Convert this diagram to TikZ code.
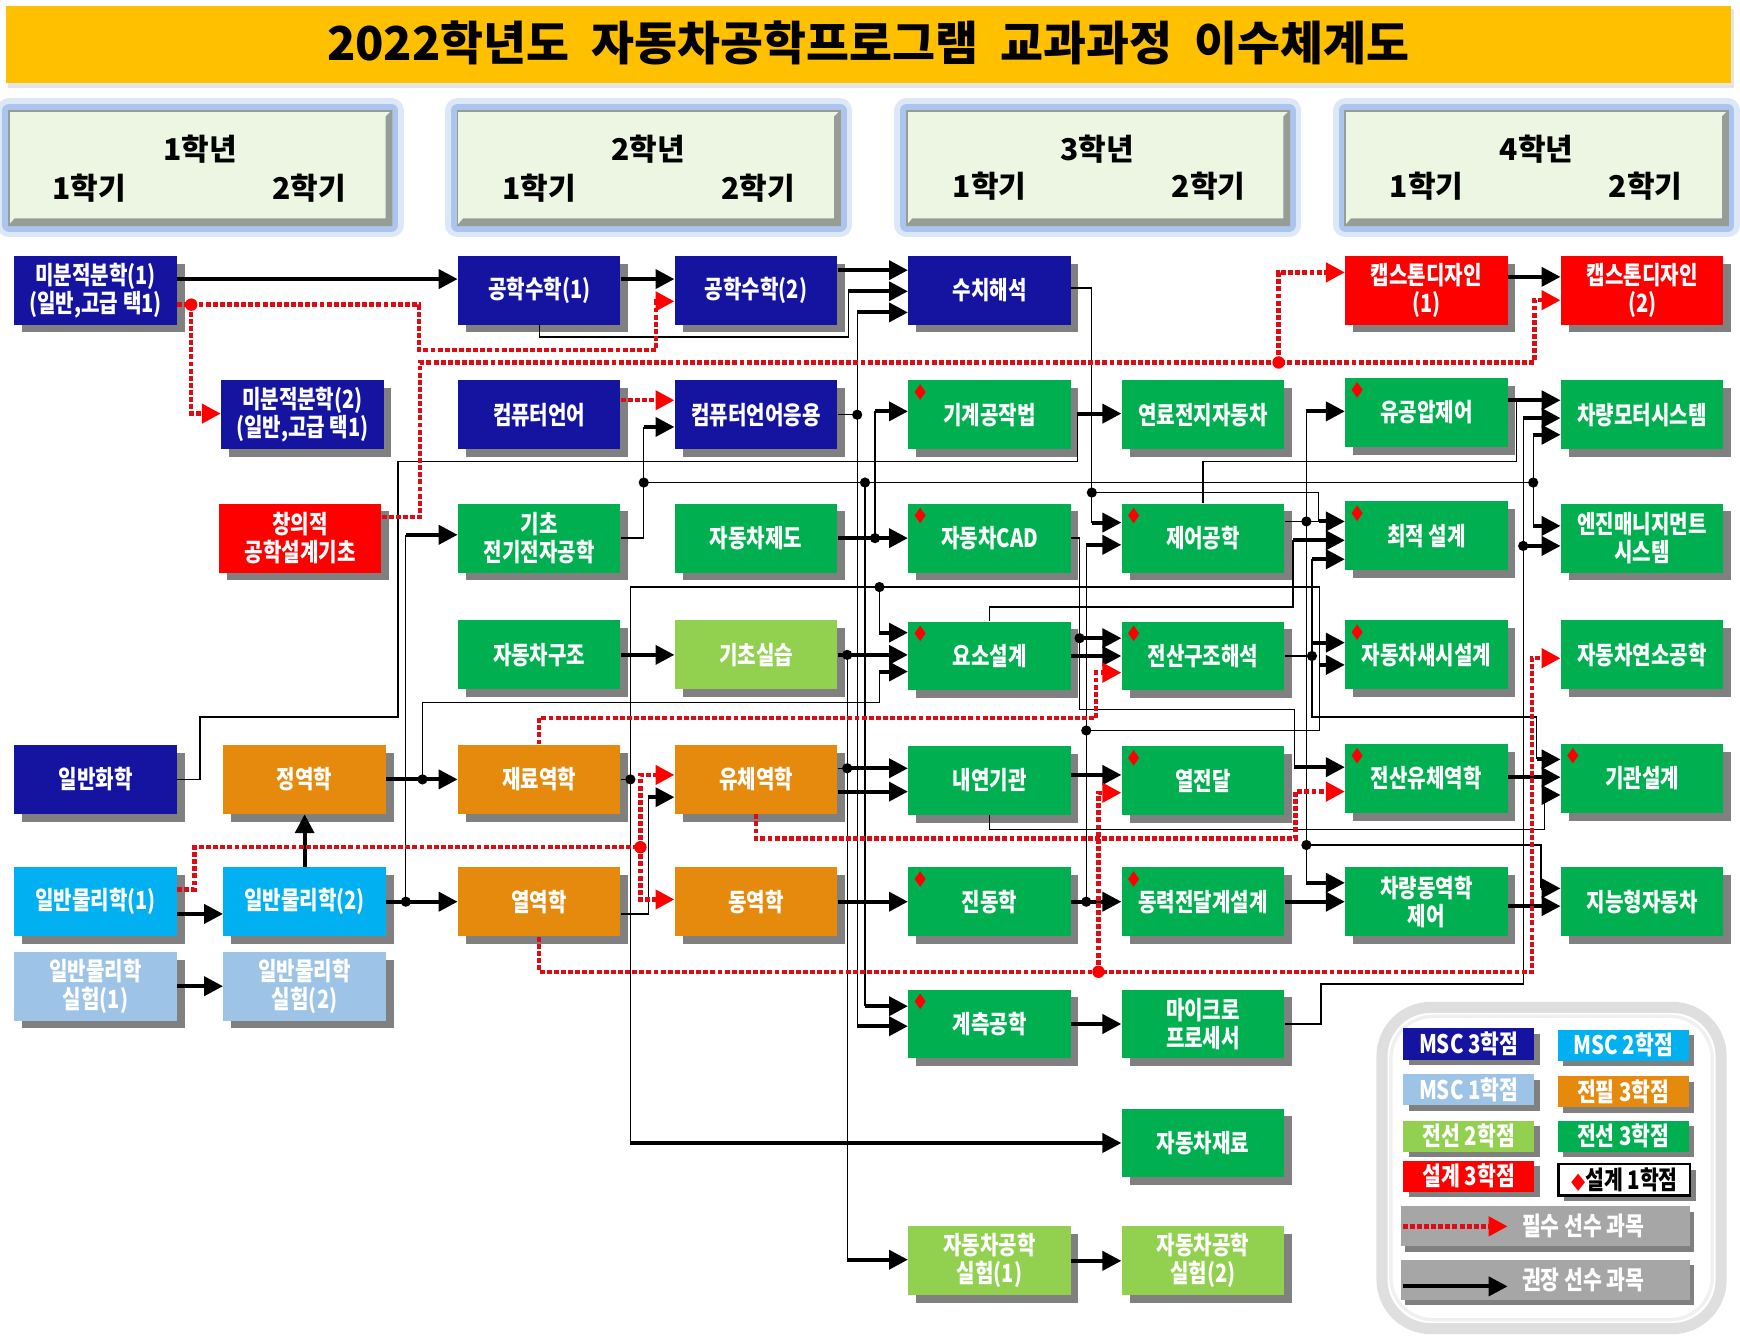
\documentclass[tikz,border=0pt]{standalone}
\usepackage{fontspec}
\setmainfont{Noto Sans CJK KR}
\newfontfamily\krc{Noto Sans CJK KR}[FakeStretch=0.8]
\usetikzlibrary{arrows.meta}
\usetikzlibrary{shadows}

\definecolor{navy}{RGB}{20,20,160}
\definecolor{skyc}{RGB}{0,176,240}
\definecolor{paleblue}{RGB}{157,195,230}
\definecolor{ochre}{RGB}{229,138,12}
\definecolor{grn}{RGB}{0,176,80}
\definecolor{lgrn}{RGB}{146,208,80}
\definecolor{shade}{RGB}{128,128,128}
\definecolor{gold}{RGB}{255,192,0}
\definecolor{hdr}{RGB}{236,246,226}
\definecolor{glow}{RGB}{140,175,228}
\definecolor{bevel}{RGB}{150,156,150}
\definecolor{legbar}{RGB}{166,166,166}
\definecolor{redq}{RGB}{222,12,18}

\tikzset{
  course/.style={minimum width=73pt, minimum height=31pt, inner sep=0pt,
    align=center, text=white,
    font=\krc\bfseries\fontsize{11.3}{12.6}\selectfont,
    drop shadow={shadow xshift=3.5pt, shadow yshift=-3.5pt, opacity=1, fill=shade}},
  msc3/.style={course, fill=navy},
  msc2/.style={course, fill=skyc},
  msc1/.style={course, fill=paleblue},
  core/.style={course, fill=ochre},
  elec3/.style={course, fill=grn},
  elec2/.style={course, fill=lgrn},
  des3/.style={course, fill=red},
  yearbox/.style={minimum width=172pt, minimum height=51.5pt, inner sep=0pt,
    fill=hdr, draw=bevel, line width=0.8pt,
    preaction={draw=glow, line width=11pt, opacity=0.3, line join=round},
    preaction={draw=glow, line width=6pt, opacity=0.6, line join=round}},
  yeartext/.style={font=\bfseries\fontsize{13.5}{15}\selectfont, inner sep=0pt},
  legkey/.style={minimum width=59pt, minimum height=14pt, inner sep=0pt, text=white,
    font=\krc\bfseries\fontsize{11.5}{12}\selectfont,
    drop shadow={shadow xshift=2.5pt, shadow yshift=-2.5pt, opacity=1, fill=shade}},
  legbar/.style={minimum width=130pt, minimum height=18pt, inner sep=0pt, fill=legbar,
    drop shadow={shadow xshift=2pt, shadow yshift=-2.5pt, opacity=1, fill=shade}},
  legtext/.style={text=white, font=\krc\bfseries\fontsize{11.5}{12}\selectfont, inner sep=0pt},
  wire/.style={line width=0.6pt},
  feed/.style={line width=1.8pt, -{Triangle[length=8.5pt,width=8.5pt]}},
  must/.style={redq, line width=2pt, dash pattern=on 2.2pt off 1pt,
    -{Triangle[length=8.5pt,width=8.5pt,color=red]}}
}

\newcommand\dmark[1]{\fill[red] ([shift={(11,4)}]#1.north west) -- ++(5,7) -- ++(-5,7) -- ++(-5,-7) -- cycle;}
\newcommand\jdot[1]{\fill (#1) circle (2.3pt);}
\newcommand\rdot[1]{\fill[red] (#1) circle (2.8pt);}

\begin{document}
\begin{tikzpicture}[x=0.5pt, y=-0.5pt]
  \useasboundingbox (0,0) rectangle (1565,1207);

  \fill[gray!20] (7,8) rectangle (1560,79);
  \fill[gold] (5,5) rectangle (1557,75);
  \node[font=\bfseries\fontsize{21}{23}\selectfont] (title) at (781,39)
       {2022학년도\hspace{10pt}자동차공학프로그램\hspace{10pt}교과과정\hspace{10pt}이수체계도};

  \node[yearbox] (hd1) at (180,151) {};
  \node[yearbox] (hd2) at (583.5,151) {};
  \node[yearbox] (hd3) at (987.5,151) {};
  \node[yearbox] (hd4) at (1382,151) {};
  \fill[bevel] (hd1.south west) -- (hd1.south east) -- (hd1.north east)
               -- ([shift={(-6,6)}]hd1.north east) -- ([shift={(-6,-7)}]hd1.south east)
               -- ([shift={(6,-7)}]hd1.south west) -- cycle;
  \fill[bevel] (hd2.south west) -- (hd2.south east) -- (hd2.north east)
               -- ([shift={(-6,6)}]hd2.north east) -- ([shift={(-6,-7)}]hd2.south east)
               -- ([shift={(6,-7)}]hd2.south west) -- cycle;
  \fill[bevel] (hd3.south west) -- (hd3.south east) -- (hd3.north east)
               -- ([shift={(-6,6)}]hd3.north east) -- ([shift={(-6,-7)}]hd3.south east)
               -- ([shift={(6,-7)}]hd3.south west) -- cycle;
  \fill[bevel] (hd4.south west) -- (hd4.south east) -- (hd4.north east)
               -- ([shift={(-6,6)}]hd4.north east) -- ([shift={(-6,-7)}]hd4.south east)
               -- ([shift={(6,-7)}]hd4.south west) -- cycle;
  \node[yeartext] (hd1y) at (180,134) {1학년};
  \node[yeartext] (hd1a) at (80,169) {1학기};
  \node[yeartext] (hd1b) at (278,169) {2학기};
  \node[yeartext] (hd2y) at (583,134) {2학년};
  \node[yeartext] (hd2a) at (485,169) {1학기};
  \node[yeartext] (hd2b) at (682,169) {2학기};
  \node[yeartext] (hd3y) at (987,134) {3학년};
  \node[yeartext] (hd3a) at (890,167) {1학기};
  \node[yeartext] (hd3b) at (1087,167) {2학기};
  \node[yeartext] (hd4y) at (1382,134) {4학년};
  \node[yeartext] (hd4a) at (1283,167) {1학기};
  \node[yeartext] (hd4b) at (1480,167) {2학기};

  \node[msc3] (calc1) at (86,261) {미분적분학(1)\\(일반,고급 택1)};
  \node[msc3] (chem) at (86,701) {일반화학};
  \node[msc2] (phys1) at (86,811) {일반물리학(1)};
  \node[msc1] (lab1) at (86,887) {일반물리학\\실험(1)};

  \node[msc3] (calc2) at (272,373) {미분적분학(2)\\(일반,고급 택1)};
  \node[des3] (design) at (270,484) {창의적\\공학설계기초};
  \node[core] (statics) at (274,701) {정역학};
  \node[msc2] (phys2) at (274,811) {일반물리학(2)};
  \node[msc1] (lab2) at (274,887) {일반물리학\\실험(2)};

  \node[msc3] (emath1) at (485,261) {공학수학(1)};
  \node[msc3] (clang) at (485,373) {컴퓨터언어};
  \node[elec3] (elec) at (485,484) {기초\\전기전자공학};
  \node[elec3] (struct) at (485,589) {자동차구조};
  \node[core] (solid) at (485,701) {재료역학};
  \node[core] (thermo) at (485,811) {열역학};

  \node[msc3] (emath2) at (680,261) {공학수학(2)};
  \node[msc3] (clapp) at (680,373) {컴퓨터언어응용};
  \node[elec3] (drawing) at (680,484) {자동차제도};
  \node[elec2] (practice) at (680,589) {기초실습};
  \node[core] (fluid) at (680,701) {유체역학};
  \node[core] (dyn) at (680,811) {동역학};

  \node[msc3] (numer) at (890,261) {수치해석};
  \node[elec3] (manuf) at (890,373) {기계공작법};
  \node[elec3] (cad) at (890,484) {자동차CAD};
  \node[elec3] (elem) at (890,590) {요소설계};
  \node[elec3] (ice) at (890,702) {내연기관};
  \node[elec3] (vib) at (890,811) {진동학};
  \node[elec3] (meas) at (890,921) {계측공학};
  \node[elec2] (explab1) at (890,1134) {자동차공학\\실험(1)};

  \node[elec3] (fuelcell) at (1082,373) {연료전지자동차};
  \node[elec3] (control) at (1082,484) {제어공학};
  \node[elec3] (fem) at (1082,590) {전산구조해석};
  \node[elec3] (heat) at (1082,702) {열전달};
  \node[elec3] (power) at (1082,811) {동력전달계설계};
  \node[elec3] (micro) at (1082,921) {마이크로\\프로세서};
  \node[elec3] (mater) at (1082,1028) {자동차재료};
  \node[elec2] (explab2) at (1082,1134) {자동차공학\\실험(2)};

  \node[des3] (cap1) at (1283,261) {캡스톤디자인\\(1)};
  \node[elec3] (hyd) at (1283,371) {유공압제어};
  \node[elec3] (optim) at (1283,482) {최적 설계};
  \node[elec3] (chassis) at (1283,589) {자동차섀시설계};
  \node[elec3] (cfd) at (1283,700) {전산유체역학};
  \node[elec3] (vdc) at (1283,811) {차량동역학\\제어};

  \node[des3] (cap2) at (1477,261) {캡스톤디자인\\(2)};
  \node[elec3] (motor) at (1477,373) {차량모터시스템};
  \node[elec3] (ems) at (1477,484) {엔진매니지먼트\\시스템};
  \node[elec3] (comb) at (1477,589) {자동차연소공학};
  \node[elec3] (engine) at (1477,700) {기관설계};
  \node[elec3] (smart) at (1477,811) {지능형자동차};

  \dmark{manuf} \dmark{cad} \dmark{elem} \dmark{vib} \dmark{meas}
  \dmark{control} \dmark{fem} \dmark{heat} \dmark{power}
  \dmark{hyd} \dmark{optim} \dmark{chassis} \dmark{cfd} \dmark{engine}

  \draw[feed] (calc1.east |- 0,251) -- (emath1.west |- 0,251);
  \draw[feed] (emath1.east |- 0,251) -- (emath2.west |- 0,251);
  \draw[feed] (emath2.east |- 0,243) -- (numer.west |- 0,243);
  \draw[wire] (emath1.south) |- (763,303) -- (763,262);
  \draw[feed] (763,262) -- (numer.west |- 0,262);
  \draw[wire] (clapp.east) -- (771,373) -- (771,281);
  \draw[feed] (771,281) -- (numer.west |- 0,281);
  \draw[wire] (771,373) -- (771,923);
  \draw[feed] (771,923) -- (meas.west |- 0,923);
  \jdot{771,373}

  \draw[wire] (elec.east) -| (579,384);
  \draw[feed] (579,384) -- (clapp.west |- 0,384);
  \draw[wire] (579,434) -- (1379,434);
  \draw[wire] (778,434) -- (778,905);
  \draw[feed] (778,905) -- (meas.west |- 0,905);
  \draw[wire] (1379,391) -- (1379,473);
  \draw[feed] (1379,391) -- (motor.west |- 0,391);
  \draw[feed] (1379,473) -- (ems.west |- 0,473);
  \jdot{579,434} \jdot{778,434} \jdot{1379,434}

  \draw[wire] (chem.east) -- (180,701) -- (180,645) -- (358,645) -- (358,415)
              -- (969,415) -- (969,372);
  \draw[feed] (969,372) -- (fuelcell.west |- 0,372);

  \draw[feed] (drawing.east) -- (cad.west);
  \draw[wire] (787,484) -- (787,370);
  \draw[feed] (787,370) -- (manuf.west |- 0,370);
  \jdot{787,484}

  \draw[feed] (practice.east) -- (practice.east -| elem.west);
  \draw[wire] (762,589) -- (762,1133);
  \draw[feed] (762,1133) -- (explab1.west |- 0,1133);
  \jdot{762,589}
  \draw[wire] (fluid.east |- 0,691) -- (762,691);
  \draw[feed] (762,691) -- (ice.west |- 0,691);
  \draw[feed] (fluid.east |- 0,712) -- (ice.west |- 0,712);
  \jdot{762,691}

  \draw[wire] (solid.east) -- (567,701) -- (567,528) -- (1187,528) -- (1187,657) -- (977,657);
  \draw[feed] (1187,598) -- (chassis.west |- 0,598);
  \draw[wire] (791,528) -- (791,569);
  \draw[feed] (791,569) -- (elem.west |- 0,569);
  \draw[wire] (567,701) -- (567,1028);
  \draw[feed] (567,1028) -- (mater.west |- 0,1028);
  \jdot{567,701} \jdot{791,528}

  \draw[feed] (statics.east) -- (solid.west);
  \draw[wire] (380,701) -- (380,632) -- (791,632) -- (791,604);
  \draw[feed] (791,604) -- (elem.west |- 0,604);
  \jdot{380,701}

  \draw[feed] (phys2.north) -- (statics.south);
  \draw[feed] (phys2.east) -- (thermo.west);
  \draw[wire] (365,811) -- (365,481);
  \draw[feed] (365,481) -- (elec.west |- 0,481);
  \jdot{365,811}
  \draw[feed] (phys1.east |- 0,822) -- (phys2.west |- 0,822);
  \draw[feed] (lab1.east) -- (lab2.west);

  \draw[wire] (thermo.east |- 0,822) -- (583,822) -- (583,717);
  \draw[feed] (583,717) -- (fluid.west |- 0,717);
  \draw[feed] (struct.east) -- (practice.west);
  \draw[feed] (dyn.east) -- (vib.west);

  \draw[wire] (numer.east |- 0,259) -- (982,259) -- (982,470);
  \draw[feed] (982,470) -- (control.west |- 0,470);
  \draw[wire] (982,443) -- (1186,443) -- (1186,469);
  \draw[feed] (1186,469) -- (optim.west |- 0,469);
  \jdot{982,443}

  \draw[wire] (cad.east) -- (971,484) -- (971,638) -- (1164,638) -- (1164,690);
  \draw[feed] (971,574) -- (fem.west |- 0,574);
  \draw[feed] (1164,690) -- (cfd.west |- 0,690);
  \jdot{971,574}
  \draw[feed] (elem.east) -- (elem.east -| fem.west);
  \draw[wire] (elem.north) |- (1163,546) -- (1163,486);
  \draw[feed] (1163,486) -- (optim.west |- 0,486);

  \draw[feed] (vib.east) -- (power.west);
  \draw[wire] (977,811) -- (977,490);
  \draw[feed] (977,490) -- (control.west |- 0,490);
  \jdot{977,811} \jdot{977,657}

  \draw[wire] (control.east |- 0,469) -- (1186,469);
  \draw[wire] (1175,370) -- (1175,794);
  \draw[feed] (1175,370) -- (hyd.west |- 0,370);
  \draw[feed] (1175,794) -- (vdc.west |- 0,794);
  \draw[wire] (1175,760) -- (1386,760) -- (1386,799);
  \draw[feed] (1386,799) -- (smart.west |- 0,799);
  \jdot{1175,469} \jdot{1175,760}
  \draw[wire] (control.north) |- (1364,415) -- (1364,360);
  \draw[feed] (hyd.east |- 0,360) -- (motor.west |- 0,360);

  \draw[wire] (fem.east) -- (1180,590);
  \draw[wire] (1180,503) -- (1180,645) -- (1382,645) -- (1382,683);
  \draw[feed] (1180,503) -- (optim.west |- 0,503);
  \draw[feed] (1180,578) -- (chassis.west |- 0,578);
  \draw[feed] (1382,683) -- (engine.west |- 0,683);
  \jdot{1180,590}

  \draw[feed] (ice.east |- 0,697) -- (heat.west |- 0,697);
  \draw[wire] (ice.south) |- (1389,746) -- (1389,715);
  \draw[feed] (1389,715) -- (engine.west |- 0,715);
  \draw[feed] (cfd.east |- 0,699) -- (engine.west |- 0,699);
  \draw[feed] (power.east) -- (vdc.west);
  \draw[feed] (vdc.east |- 0,815) -- (smart.west |- 0,815);
  \draw[feed] (meas.east) -- (micro.west);
  \draw[wire] (micro.east) -- (1188,921) -- (1188,885) -- (1370,885) -- (1370,376);
  \draw[feed] (1370,491) -- (ems.west |- 0,491);
  \draw[feed] (1370,376) -- (motor.west |- 0,376);
  \jdot{1370,491}
  \draw[feed] (explab1.east) -- (explab2.west);
  \draw[feed] (cap1.east |- 0,249) -- (cap2.west |- 0,249);

  \draw[must] (calc1.east |- 0,274) -- (377,274) -- (377,315) -- (590,315) -- (590,271)
              -- (emath2.west |- 0,271);
  \draw[must] (172,274) -- (172,372) -- (calc2.west |- 0,372);
  \rdot{172,274}
  \draw[must] (design.east |- 0,465) -- (378,465) -- (378,326) -- (1380,326) -- (1380,270)
              -- (cap2.west |- 0,270);
  \draw[must] (1150,326) -- (1150,245) -- (cap1.west |- 0,245);
  \rdot{1150,326}
  \draw[must] (clang.east |- 0,360) -- (clapp.west |- 0,360);
  \draw[must] (phys1.east |- 0,800) -- (175,800) -- (175,762) -- (576,762) -- (576,697)
              -- (fluid.west |- 0,697);
  \draw[must] (576,762) -- (576,809) -- (dyn.west |- 0,809);
  \rdot{576,762}
  \draw[must] (solid.north) |- (986,646) -- (986,605) -- (fem.west |- 0,605);
  \draw[must] (fluid.south) |- (1165,754) -- (1165,712) -- (cfd.west |- 0,712);
  \draw[must] (thermo.south) |- (1378,874) -- (1378,592) -- (comb.west |- 0,592);
  \draw[must] (988,874) -- (988,713) -- (heat.west |- 0,713);
  \rdot{988,874}

  \draw[line width=5pt, gray!25, rounded corners=22pt, fill=white] (1243,906) rectangle (1548,1195);
  \draw[line width=1.5pt, gray!12, rounded corners=19pt] (1251,914) rectangle (1540,1187);
  \node[legkey, fill=navy] (key1) at (1321,939) {MSC 3학점};
  \node[legkey, fill=skyc] (key2) at (1460,940) {MSC 2학점};
  \node[legkey, fill=paleblue] (key3) at (1321,980) {MSC 1학점};
  \node[legkey, fill=ochre] (key4) at (1460,982) {전필 3학점};
  \node[legkey, fill=lgrn] (key5) at (1321,1022) {전선 2학점};
  \node[legkey, fill=grn] (key6) at (1460,1022) {전선 3학점};
  \node[legkey, fill=red] (key7) at (1321,1058) {설계 3학점};
  \node[legkey, fill=white, draw=black, line width=1.2pt, text=black] (key8) at (1461,1061)
       {\textcolor{red}{\fontsize{8}{8}\selectfont◆}설계 1학점};
  \node[legbar] (key9) at (1390,1103) {};
  \draw[must] ([xshift=1pt]key9.west |- 0,1103) -- (1356,1103);
  \node[legtext] (key9t) at (1424,1103) {필수 선수 과목};
  \node[legbar] (key10) at (1390,1151) {};
  \draw[feed] ([xshift=1pt]key10.west |- 0,1157) -- (1356,1157);
  \node[legtext] (key10t) at (1424,1151) {권장 선수 과목};

\end{tikzpicture}
\end{document}
